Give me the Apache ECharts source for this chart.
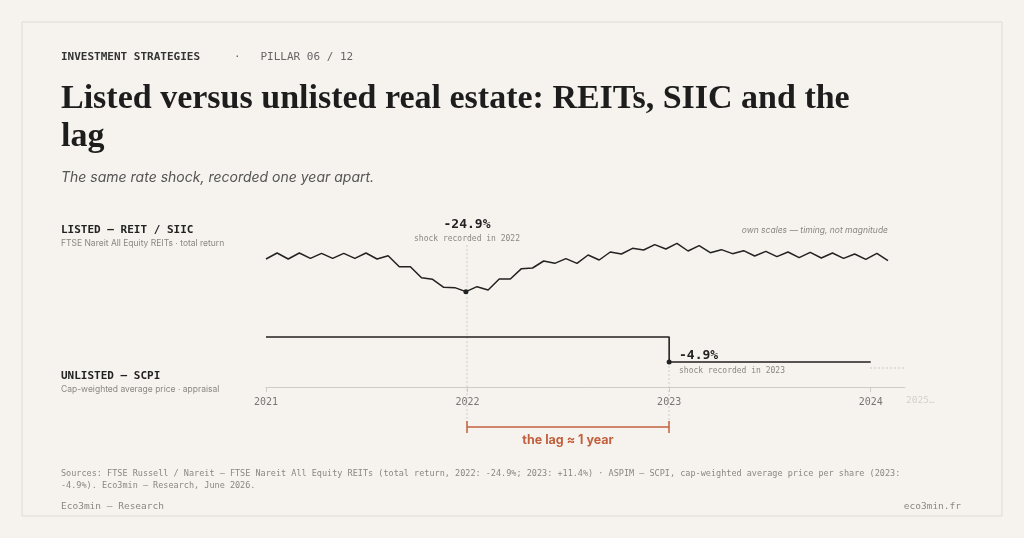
<!DOCTYPE html>
<html><head><meta charset="utf-8">
<script src="https://cdn.jsdelivr.net/npm/echarts@6/dist/echarts.min.js"></script>
<style>html,body{margin:0;background:#f6f3ee}#c{width:1024px;height:538px}</style>
</head><body><div id="c"></div>
<script>
// listed REIT index level (own scale), semi-monthly points from 2021
var reitStart = 2021, reitStep = 0.0551;
var reitValues = [90.6,94.2,90.6,94.2,91,94,91,94,91,94.2,90.6,92.6,86,86,79.4,78.4,73.6,73.4,71,74,72,78.6,78.6,84.8,85.2,89.4,88,90.8,88,93,90,94.8,93.6,97,96,99.2,96.6,100,95.4,98.6,94.4,96.2,93.8,95.6,92.4,95.2,92,94.8,91.4,94.6,91.2,94.2,91,93.6,90.4,94,89.6];
// unlisted SCPI price (step)
var scpiTimes = [2021, 2023, 2023, 2024];
var scpiValues = [100, 100, 95.1, 95.1];
var yearTicks = [2021, 2022, 2023, 2024];

var mono = '"DejaVu Sans Mono", monospace';
var sans = 'Inter, "Noto Sans", sans-serif';
var grey = '#8a8780';
var red = '#c0603f';

var reitData = reitValues.map(function (v, i) { return [reitStart + i * reitStep, v]; });
var scpiData = scpiTimes.map(function (t, i) { return [t, scpiValues[i]]; });

var chart = echarts.init(document.getElementById('c'));
function txt(x, y, s, st) {
  return { type: 'text', x: x, y: y, style: Object.assign({ text: s, fill: '#222', font: '10px ' + mono }, st || {}) };
}
chart.setOption({
  backgroundColor: '#f6f3ee',
  animation: false,
  grid: [
    { left: 266, width: 639, top: 230, height: 70 },
    { left: 266, width: 639, top: 300, height: 87 }
  ],
  xAxis: [
    { gridIndex: 0, type: 'value', min: 2021, max: 2024.17, show: false },
    { gridIndex: 1, type: 'value', min: 2021, max: 2024.17,
      axisLine: { lineStyle: { color: '#cfccc6' } },
      axisTick: { show: true, length: 5, lineStyle: { color: '#cfccc6' }, customValues: yearTicks },
      axisLabel: { color: '#777', fontFamily: mono, fontSize: 10, margin: 10, customValues: yearTicks, formatter: function (v) { return String(v); } },
      splitLine: { show: false } }
  ],
  yAxis: [
    { gridIndex: 0, type: 'value', min: 66, max: 108, show: false },
    { gridIndex: 1, type: 'value', min: 90.2, max: 107.25, show: false }
  ],
  series: [
    { type: 'line', xAxisIndex: 0, yAxisIndex: 0, data: reitData, symbol: 'none',
      lineStyle: { color: '#222', width: 1.5 },
      markPoint: { symbol: 'circle', symbolSize: 5, itemStyle: { color: '#222' }, label: { show: false },
        data: [{ coord: reitData[18] }] } },
    { type: 'line', xAxisIndex: 1, yAxisIndex: 1, data: scpiData, symbol: 'none',
      lineStyle: { color: '#222', width: 1.6 },
      markPoint: { symbol: 'circle', symbolSize: 5, itemStyle: { color: '#222' }, label: { show: false },
        data: [{ coord: scpiData[2] }] } }
  ],
  graphic: [
    { type: 'rect', shape: { x: 22, y: 22, width: 980, height: 494 }, style: { fill: 'none', stroke: '#dedad3', lineWidth: 1 } },
    txt(61, 52, 'INVESTMENT STRATEGIES', { font: 'bold 11px ' + mono, fill: '#333' }),
    txt(234, 52, '·   PILLAR 06 / 12', { font: '11px ' + mono, fill: '#666' }),
    txt(61, 82, 'Listed versus unlisted real estate: REITs, SIIC and the', { font: 'bold 34px "Liberation Serif", serif', fill: '#1d1d1d' }),
    txt(61, 120, 'lag', { font: 'bold 34px "Liberation Serif", serif', fill: '#1d1d1d' }),
    txt(61, 171, 'The same rate shock, recorded one year apart.', { font: 'italic 14px ' + sans, fill: '#555' }),
    txt(61, 225, 'LISTED — REIT / SIIC', { font: 'bold 11px ' + mono, fill: '#222' }),
    txt(61, 239, 'FTSE Nareit All Equity REITs · total return', { font: '8.5px ' + sans, fill: grey }),
    txt(61, 371, 'UNLISTED — SCPI', { font: 'bold 11px ' + mono, fill: '#222' }),
    txt(61, 385, 'Cap-weighted average price · appraisal', { font: '8.5px ' + sans, fill: grey }),
    { type: 'text', x: 467, y: 218, style: { text: '-24.9%', align: 'center', fill: '#222', font: 'bold 13px ' + mono } },
    { type: 'text', x: 467, y: 235, style: { text: 'shock recorded in 2022', align: 'center', fill: grey, font: '8px ' + mono } },
    { type: 'text', x: 888, y: 226, style: { text: 'own scales — timing, not magnitude', align: 'right', fill: grey, font: 'italic 8.5px ' + sans } },
    txt(679, 349, '-4.9%', { font: 'bold 13px ' + mono }),
    txt(679, 367, 'shock recorded in 2023', { font: '8px ' + mono, fill: grey }),
    txt(906, 396, '2025…', { font: '9.5px ' + mono, fill: '#d3d0ca' }),
    { type: 'line', shape: { x1: 870, y1: 368, x2: 905, y2: 368 }, style: { stroke: '#c9c6c0', lineDash: [2, 2] } },
    { type: 'line', shape: { x1: 467, y1: 245, x2: 467, y2: 430 }, style: { stroke: '#cfccc6', lineDash: [2, 2] }, z: -1 },
    { type: 'line', shape: { x1: 669, y1: 362, x2: 669, y2: 430 }, style: { stroke: '#cfccc6', lineDash: [2, 2] }, z: -1 },
    { type: 'line', shape: { x1: 467, y1: 427, x2: 669, y2: 427 }, style: { stroke: red, lineWidth: 1.5 } },
    { type: 'line', shape: { x1: 467, y1: 421, x2: 467, y2: 433 }, style: { stroke: red, lineWidth: 1.5 } },
    { type: 'line', shape: { x1: 669, y1: 421, x2: 669, y2: 433 }, style: { stroke: red, lineWidth: 1.5 } },
    { type: 'text', x: 568, y: 434, style: { text: 'the lag ≈ 1 year', align: 'center', fill: red, font: 'bold 12.5px ' + sans } },
    txt(61, 469, 'Sources: FTSE Russell / Nareit — FTSE Nareit All Equity REITs (total return, 2022: -24.9%; 2023: +11.4%) · ASPIM — SCPI, cap-weighted average price per share (2023:', { font: '8.5px ' + mono, fill: grey }),
    txt(61, 481, '-4.9%). Eco3min — Research, June 2026.', { font: '8.5px ' + mono, fill: grey }),
    txt(61, 502, 'Eco3min — Research', { font: '9.5px ' + mono, fill: grey }),
    { type: 'text', x: 961, y: 502, style: { text: 'eco3min.fr', align: 'right', fill: grey, font: '9.5px ' + mono } }
  ]
});
</script></body></html>
